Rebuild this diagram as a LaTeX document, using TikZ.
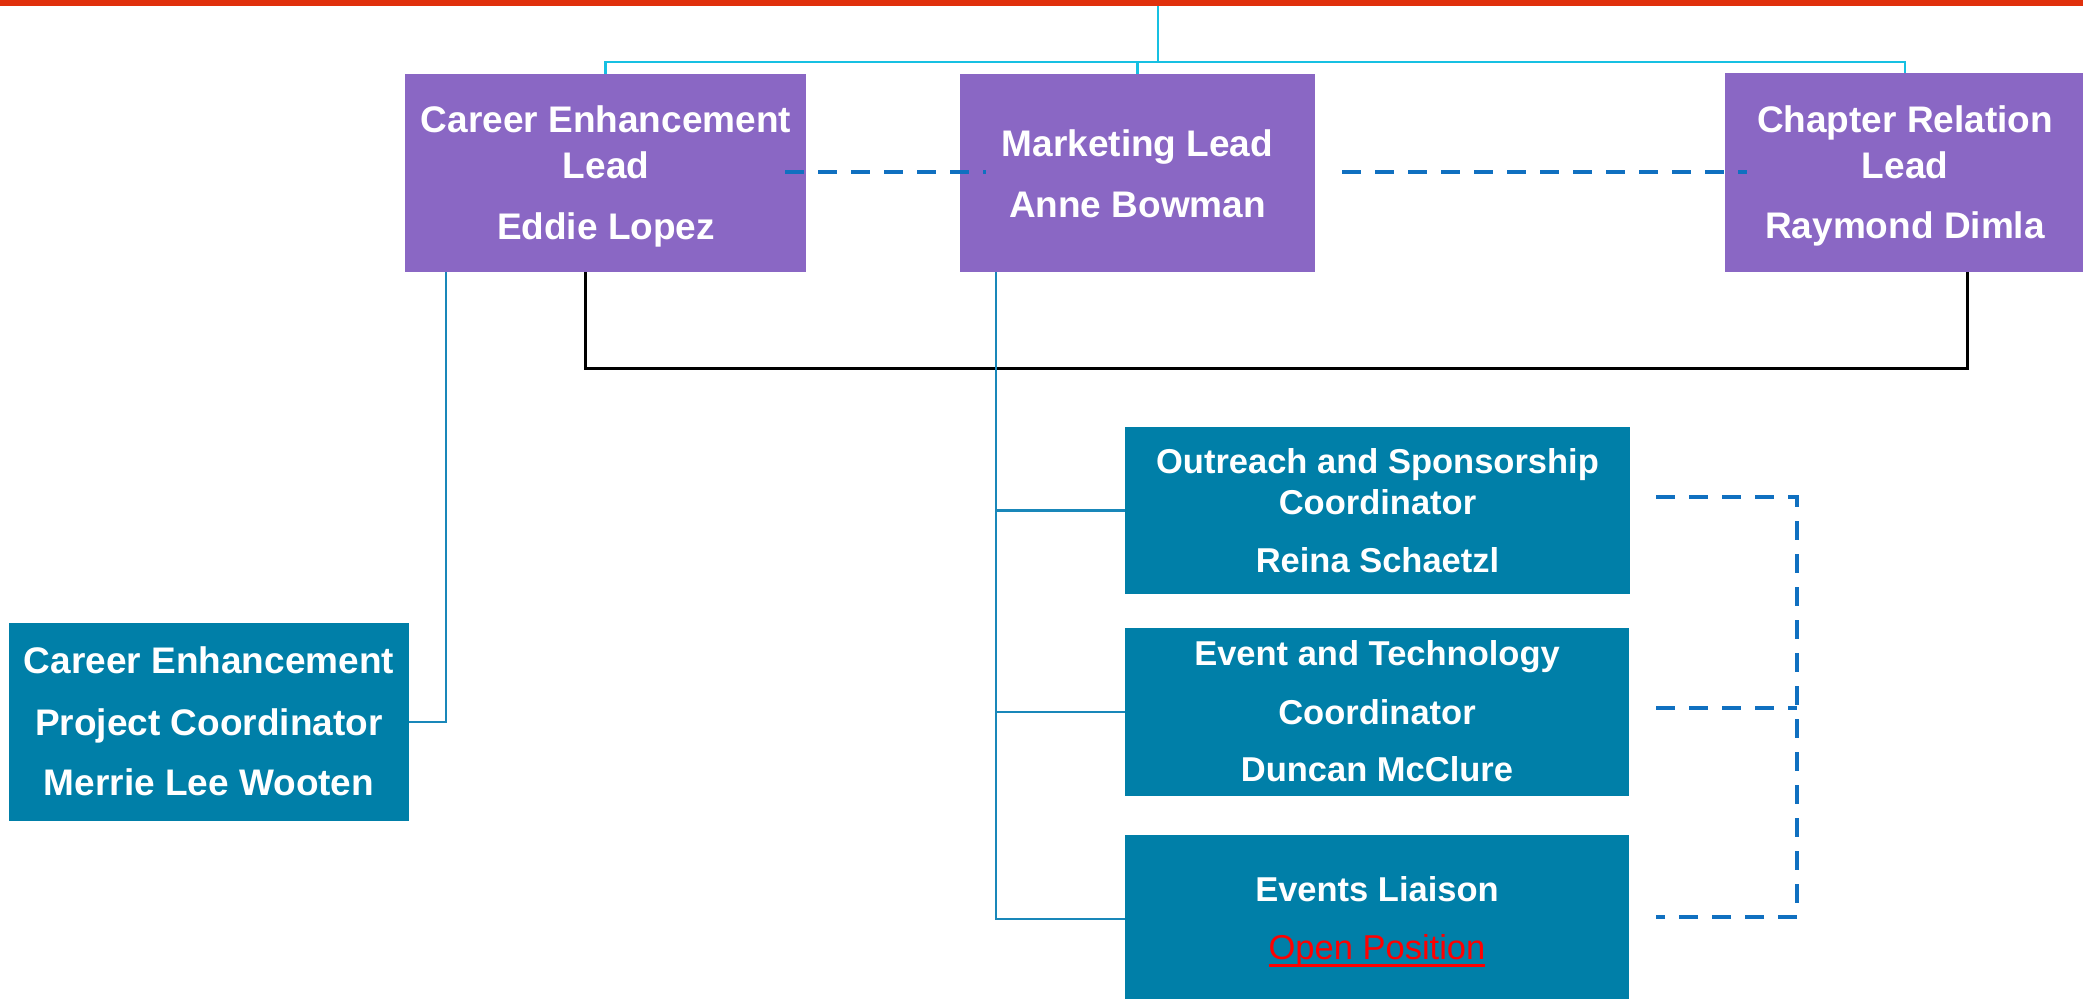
\documentclass[tikz,border=0pt]{standalone}
\usepackage{fontspec}
\setmainfont{Liberation Sans}
\definecolor{purp}{RGB}{138,103,196}
\definecolor{tealc}{RGB}{0,127,168}
\definecolor{redc}{RGB}{224,48,12}
\definecolor{cyanc}{RGB}{22,192,226}
\definecolor{bluec}{RGB}{25,135,185}
\definecolor{dashc}{RGB}{16,112,192}
\definecolor{openred}{RGB}{255,0,0}
\begin{document}
\begin{tikzpicture}[x=0.5pt,y=-0.5pt,
  box/.style={inner sep=0pt, outer sep=0pt, draw=none},
  pbox/.style={box, fill=purp},
  tbox/.style={box, fill=tealc},
  lbl/.style={anchor=base, inner sep=0pt, outer sep=0pt, text=white, font=\bfseries\fontsize{18.5}{20}\selectfont},
  slbl/.style={lbl, font=\bfseries\fontsize{17.25}{19}\selectfont},
  cyanln/.style={draw=cyanc, line width=1.3pt},
  blueln/.style={draw=bluec, line width=1.1pt},
  blackln/.style={draw=black, line width=1.5pt},
  dashln/.style={draw=dashc, line width=2pt, dash pattern=on 9.5pt off 7pt}]
\useasboundingbox (0,0) rectangle (2083,998);
% top bar
\node[box, fill=redc, minimum width=1041.5pt, minimum height=3pt] (bar) at (1041.5,3) {};
% boxes
\node[pbox, minimum width=200.5pt, minimum height=99pt] (cel) at (605.5,173) {};
\node[pbox, minimum width=177.5pt, minimum height=99pt] (mkt) at (1137.5,173) {};
\node[pbox, minimum width=180pt, minimum height=99.5pt] (crl) at (1905,172.5) {};
\node[tbox, minimum width=200pt, minimum height=99pt] (cepc) at (209,722) {};
\node[tbox, minimum width=252.5pt, minimum height=83.5pt] (osc) at (1377.5,510.5) {};
\node[tbox, minimum width=252pt, minimum height=84pt] (etc) at (1377,712) {};
\node[tbox, minimum width=252pt, minimum height=84pt] (el) at (1377,919) {};
% coordinates
\coordinate (top) at (1158,6);
\coordinate (j) at (1158,62);
\coordinate (b1) at (585,368);
\coordinate (b2) at (1967,368);
\coordinate (l1) at (446,722);
\coordinate (m) at (996,0);
\coordinate (d1) at (1656,497);
\coordinate (d2) at (1656,708);
\coordinate (d3) at (1656,917);
\coordinate (r1) at (1797,497);
\coordinate (r2) at (1797,708);
\coordinate (r3) at (1797,917);
\coordinate (h1) at (785,172);
\coordinate (h2) at (986,172);
\coordinate (h3) at (1342,172);
\coordinate (h4) at (1747,172);
% cyan tree
\draw[cyanln] (top) -- (j);
\draw[cyanln] (j) -| (cel.north);
\draw[cyanln] (mkt.north |- j) -- (mkt.north);
\draw[cyanln] (j) -| (crl.north);
% black bracket
\draw[blackln] (b1 |- cel.south) -- (b1) -- (b2) -- (b2 |- crl.south);
% blue connectors
\draw[blueln] (l1 |- cel.south) -- (l1) -- (cepc.east);
\draw[blueln] (m |- mkt.south) -- (m |- el.west) -- (el.west);
\draw[blueln] (m |- osc.west) -- (osc.west);
\draw[blueln] (m |- etc.west) -- (etc.west);
% dashed
\draw[dashln] (h1) -- (h2);
\draw[dashln] (h3) -- (h4);
\draw[dashln] (d1) -- (r1) -- (r3) -- (d3);
\draw[dashln] (d2) -- (r2);
% texts
\node[lbl] (t1) at (606,132) {Career Enhancement};
\node[lbl] (t2) at (606,178) {Lead};
\node[lbl] (t3) at (606,239) {Eddie Lopez};
\node[lbl] (t4) at (1137.5,156) {Marketing Lead};
\node[lbl] (t5) at (1137.5,217) {Anne Bowman};
\node[lbl] (t6) at (1905,132) {Chapter Relation};
\node[lbl] (t7) at (1905,178) {Lead};
\node[lbl] (t8) at (1905,238) {Raymond Dimla};
\node[lbl] (t9) at (209,673) {Career Enhancement};
\node[lbl] (t10) at (209,735) {Project Coordinator};
\node[lbl] (t11) at (209,795) {Merrie Lee Wooten};
\node[slbl] (t12) at (1377.5,473) {Outreach and Sponsorship};
\node[slbl] (t13) at (1377.5,514) {Coordinator};
\node[slbl] (t14) at (1377.5,572) {Reina Schaetzl};
\node[slbl] (t15) at (1377,665) {Event and Technology};
\node[slbl] (t16) at (1377,724) {Coordinator};
\node[slbl] (t17) at (1377,781) {Duncan McClure};
\node[slbl] (t18) at (1377,901) {Events Liaison};
\node[slbl, text=openred, font=\mdseries\fontsize{17.25}{19}\selectfont] (t19) at (1377,959) {Open Position};
\draw[draw=openred, line width=1.15pt] ([yshift=-3.2pt]t19.base west) -- ([yshift=-3.2pt]t19.base east);
\end{tikzpicture}
\end{document}
